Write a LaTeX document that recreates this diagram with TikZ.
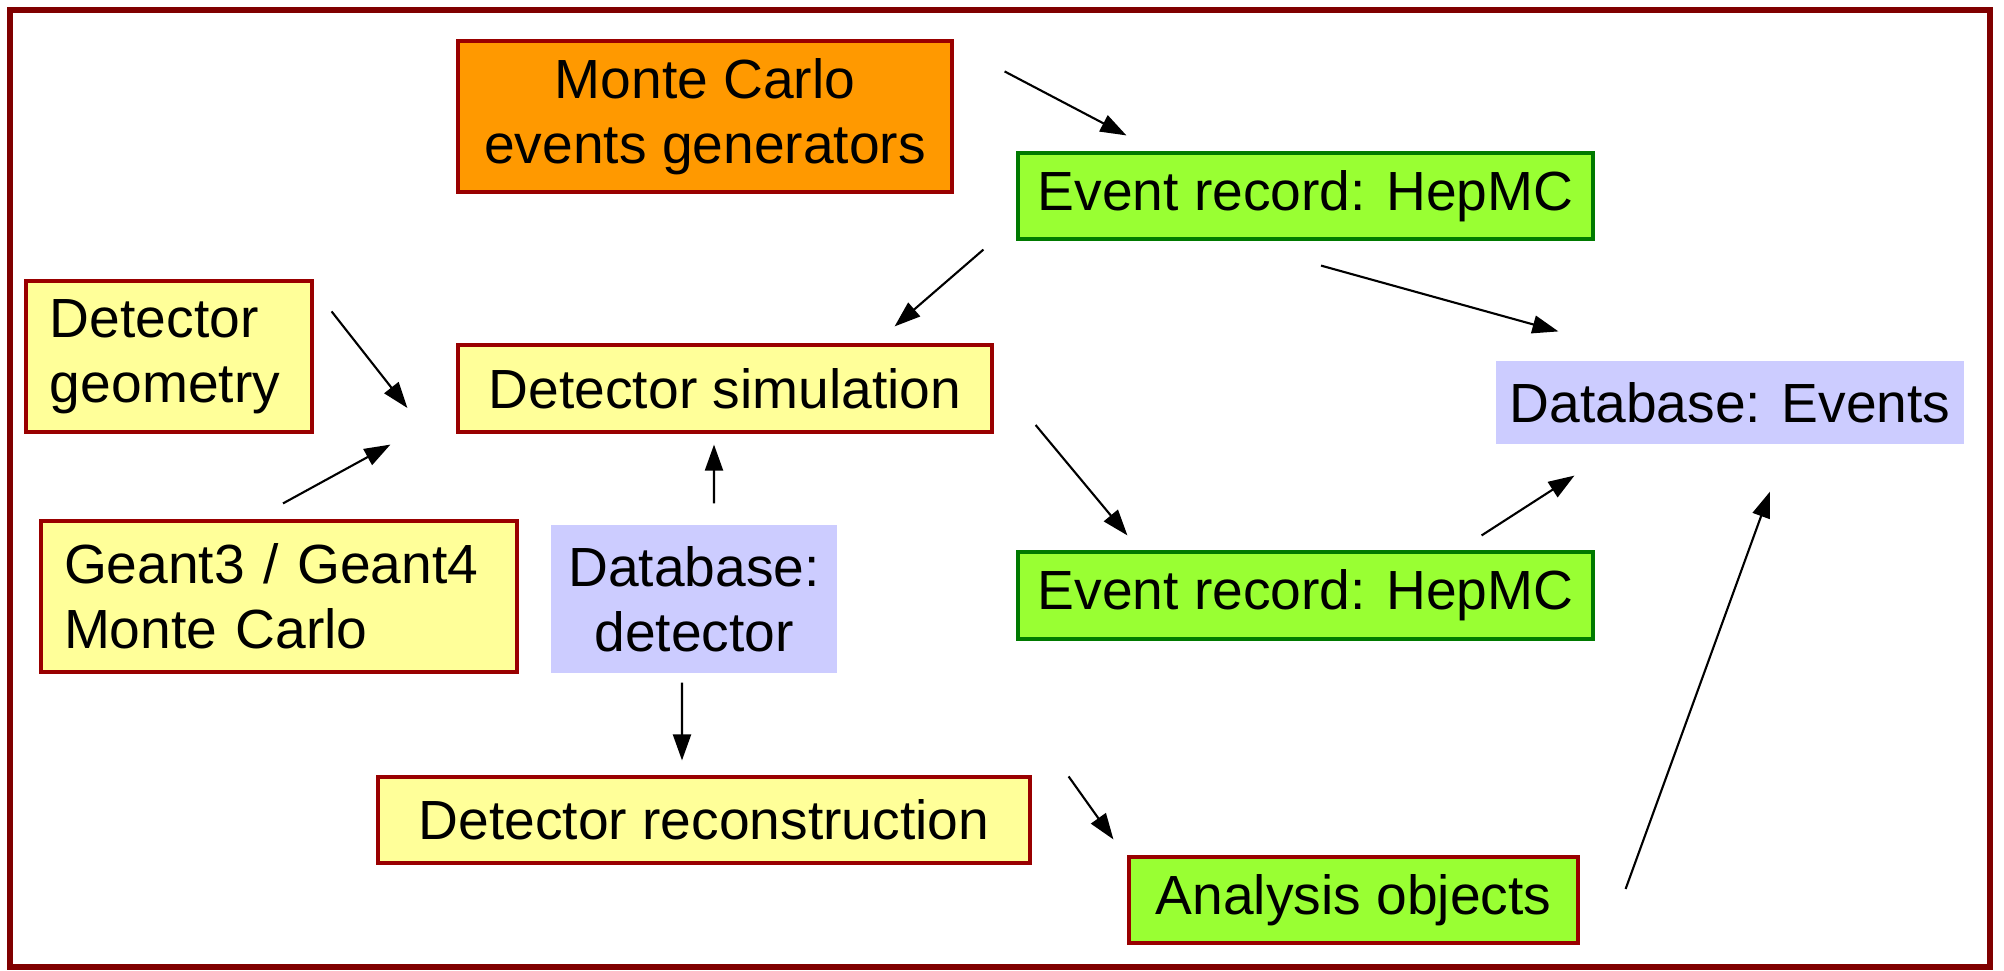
\documentclass[tikz,border=0pt]{standalone}
\usepackage{fontspec}
\setmainfont{Liberation Sans}
\usepackage{xcolor}
\usetikzlibrary{arrows.meta,positioning,calc}

\definecolor{frameRed}{HTML}{800000}
\definecolor{boxRed}{HTML}{990000}
\definecolor{mcOrange}{HTML}{FF9900}
\definecolor{recGreen}{HTML}{99FF33}
\definecolor{recEdge}{HTML}{007A00}
\definecolor{noteYellow}{HTML}{FFFF99}
\definecolor{dbBlue}{HTML}{CCCCFF}

\begin{document}
\begin{tikzpicture}[
  font=\fontsize{15.7}{18.5}\selectfont,
  box/.style={rectangle,inner sep=0pt,line width=0.9pt},
  ybox/.style={box,draw=boxRed,fill=noteYellow},
  gbox/.style={box,draw=recEdge,fill=recGreen},
  bbox/.style={box,fill=dbBlue},
  obox/.style={box,draw=boxRed,fill=mcOrange},
  arr/.style={-{Triangle[length=2.6mm,width=1.8mm]},line width=0.6pt}
]
    % frame and size
\useasboundingbox (0,0) rectangle (20.04,-9.70);
\draw[frameRed,line width=1.6pt] (0.10,-0.10) rectangle (19.90,-9.67);

    % generators and event records
\node[obox,minimum width=4.94cm,minimum height=1.51cm,align=center] (mcgen) at (7.05,-1.165) {Monte Carlo\\events generators};
\node[gbox,minimum width=5.75cm,minimum height=0.86cm] (ev1) at (13.055,-1.96) {Event record: HepMC};
\node[gbox,minimum width=5.75cm,minimum height=0.87cm] (ev2) at (13.055,-5.955) {Event record: HepMC};

    % simulation side
\node[ybox,text width=2.38cm,inner xsep=0.24cm,minimum height=1.51cm,align=left] (geom) at (1.69,-3.565) {Detector\\geometry};
\node[ybox,minimum width=5.34cm,minimum height=0.87cm] (detsim) at (7.25,-3.885) {Detector simulation};
\node[ybox,text width=4.30cm,inner xsep=0.23cm,minimum height=1.51cm,align=left] (geant) at (2.79,-5.965) {Geant3 / Geant4\\Monte Carlo};
\node[bbox,minimum width=2.86cm,minimum height=1.48cm,align=center] (dbdet) at (6.94,-5.99) {Database:\\detector};

    % reconstruction and analysis
\node[ybox,minimum width=6.52cm,minimum height=0.86cm] (reco) at (7.04,-8.20) {Detector reconstruction};
\node[ybox,fill=recGreen,minimum width=4.49cm,minimum height=0.86cm] (ana) at (13.535,-9.00) {Analysis objects};
\node[bbox,minimum width=4.68cm,minimum height=0.83cm] (dbev) at (17.30,-4.025) {Database: Events};

    % connectors
\draw[arr] ([shift={(0.51,-0.32)}]mcgen.north east) -- ([shift={(1.10,0.16)}]ev1.north west);
\draw[arr] ([shift={(-0.33,-0.09)}]ev1.south west) -- ([shift={(-0.99,0.17)}]detsim.north east);
\draw[arr] ([shift={(0.155,-0.25)}]ev1.south) -- ([shift={(0.64,0.28)}]dbev.north west);
\draw[arr] ([shift={(0.18,-0.32)}]geom.north east) -- ([shift={(-0.49,-0.195)}]detsim.west);
\draw[arr] ([shift={(0.04,0.16)}]geant.north) -- ([shift={(-0.66,-0.11)}]detsim.south west);
\draw[arr] ([shift={(0.20,0.20)}]dbdet.north) -- ([shift={(-0.11,-0.11)}]detsim.south);
\draw[arr] ([shift={(-0.12,-0.08)}]dbdet.south) -- ([shift={(-0.22,0.15)}]reco.north);
\draw[arr] ([shift={(0.42,-0.365)}]detsim.east) -- ([shift={(1.11,0.15)}]ev2.north west);
\draw[arr] ([shift={(-1.13,0.15)}]ev2.north east) -- ([shift={(0.80,-0.30)}]dbev.south west);
\draw[arr] ([shift={(0.37,-0.01)}]reco.north east) -- ([shift={(-0.14,0.16)}]ana.north west);
\draw[arr] ([shift={(0.46,0.11)}]ana.east) -- ([shift={(0.40,-0.46)}]dbev.south);
\end{tikzpicture}
\end{document}
